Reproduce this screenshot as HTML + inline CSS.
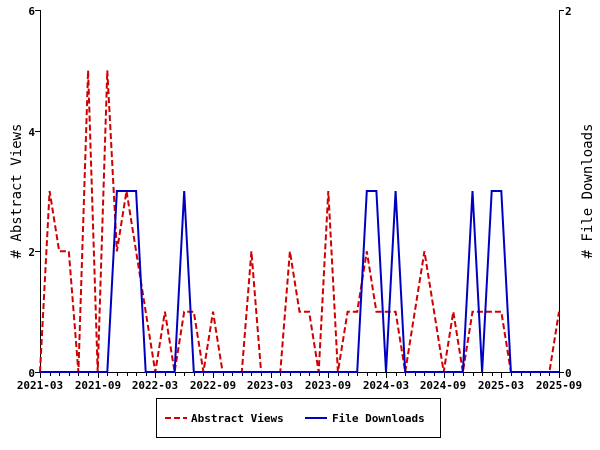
<!DOCTYPE html>
<html><head><style>body{margin:0;background:#fff}svg{display:block}text{font-family:"DejaVu Sans Mono","Liberation Mono",monospace;font-weight:bold;font-size:11px}</style></head>
<body>
<svg width="600" height="450" xmlns="http://www.w3.org/2000/svg">
<rect width="600" height="450" fill="#fff"/>
<g id="ticks" stroke="#000" stroke-width="1"></g>
<line x1="40.5" y1="10" x2="40.5" y2="373" stroke="#000"/>
<line x1="559.5" y1="10" x2="559.5" y2="373" stroke="#000"/>
<line x1="40" y1="372.5" x2="560" y2="372.5" stroke="#000"/>
<g stroke="#000">
<line x1="35" y1="10.5" x2="40" y2="10.5"/><line x1="35" y1="131.5" x2="40" y2="131.5"/><line x1="35" y1="251.5" x2="40" y2="251.5"/><line x1="35" y1="372.5" x2="40" y2="372.5"/>
<line x1="559" y1="10.5" x2="564" y2="10.5"/><line x1="559" y1="372.5" x2="564" y2="372.5"/>
</g>
<g text-anchor="end">
<text x="35" y="15">6</text><text x="35" y="136">4</text><text x="35" y="256">2</text><text x="35" y="377">0</text>
</g>
<text x="565" y="15">2</text><text x="565" y="377">0</text>
<g text-anchor="middle">
<text x="40" y="389">2021-03</text><text x="98" y="389">2021-09</text><text x="155" y="389">2022-03</text><text x="213" y="389">2022-09</text><text x="270" y="389">2023-03</text><text x="328" y="389">2023-09</text><text x="386" y="389">2024-03</text><text x="443" y="389">2024-09</text><text x="501" y="389">2025-03</text><text x="559" y="389">2025-09</text>
</g>
<text transform="translate(21,191) rotate(-90)" text-anchor="middle" style="font-size:14px;font-weight:normal">#  Abstract Views</text>
<text transform="translate(592,191) rotate(-90)" text-anchor="middle" style="font-size:14px;font-weight:normal">#  File Downloads</text>
<polyline id="av" fill="none" stroke="#d00000" stroke-width="2" stroke-dasharray="6,3"/>
<polyline id="fd" fill="none" stroke="#0000c0" stroke-width="2"/>
<rect x="156.5" y="398.5" width="284" height="39" fill="#fff" stroke="#000"/>
<line x1="165" y1="418" x2="187" y2="418" stroke="#d00000" stroke-width="2" stroke-dasharray="6,3"/>
<text x="191" y="422">Abstract Views</text>
<line x1="305" y1="418" x2="327" y2="418" stroke="#0000c0" stroke-width="2"/>
<text x="332" y="422">File Downloads</text>
</svg>
<script>
var av=[0,3,2,2,0,5,0,5,2,3,2,1,0,1,0,1,1,0,1,0,0,0,2,0,0,0,2,1,1,0,3,0,1,1,2,1,1,1,0,1,2,1,0,1,0,1,1,1,1,0,0,0,0,0,1];
var fd=new Array(55).fill(0);[8,9,10,15,34,35,37,45,47,48].forEach(i=>fd[i]=3);
function pts(a){return a.map((v,i)=>(40+i*519/54).toFixed(1)+","+(372-v*60.33).toFixed(1)).join(" ");}
document.getElementById("av").setAttribute("points",pts(av));
document.getElementById("fd").setAttribute("points",pts(fd));
var t="";for(var i=0;i<=54;i++){var x=Math.round(40+i*519/54)+0.5;t+='<line x1="'+x+'" y1="372" x2="'+x+'" y2="'+(i%6==0?378:376)+'"/>';}
document.getElementById("ticks").innerHTML=t;
</script>
</body></html>
